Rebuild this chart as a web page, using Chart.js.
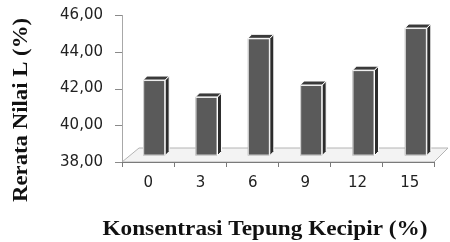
<!DOCTYPE html>
<html>
<head>
<meta charset="utf-8">
<script src="https://cdn.jsdelivr.net/npm/chart.js@4/dist/chart.umd.min.js"></script>
<style>
  body { margin: 0; background: #fff; }
  #wrap { width: 450px; height: 242px; }
</style>
</head>
<body>
<div id="wrap"><canvas id="chart" width="450" height="242"></canvas></div>
<script>
// data
const categories = ['0', '3', '6', '9', '12', '15'];
const ratarata = [42.46, 41.54, 44.73, 42.19, 43.00, 45.29];
const yMin = 38, yMax = 46, yStep = 2;
const barBase = 38.35;   // bars stand on the floor, a bit above the front edge

const yTitle = 'Rerata Nilai L (%)';
const xTitle = 'Konsentrasi Tepung Kecipir (%)';

const DEPTH = 4;

// floor, back wall and axis lines of the pseudo 3d frame
const frame3d = {
  id: 'frame3d',
  beforeDatasetsDraw(chart) {
    const { ctx, chartArea: a, scales } = chart;
    const x0 = a.left - 6, x1 = a.right - 8;
    const fy = a.bottom, by = a.bottom - 14;
    ctx.save();
    // floor
    ctx.beginPath();
    ctx.moveTo(x0, fy);
    ctx.lineTo(x1, fy);
    ctx.lineTo(x1 + 14, by);
    ctx.lineTo(x0 + 17, by);
    ctx.closePath();
    ctx.fillStyle = '#f3f3f3';
    ctx.fill();
    ctx.strokeStyle = '#b4b4b4';
    ctx.lineWidth = 1;
    ctx.stroke();
    // back wall line
    ctx.beginPath();
    ctx.moveTo(x0 + 0.5, a.top);
    ctx.lineTo(x0 + 0.5, fy);
    ctx.strokeStyle = '#a8a8a8';
    ctx.stroke();
    // y tick marks
    ctx.strokeStyle = '#8a8a8a';
    scales.y.ticks.forEach(t => {
      const py = Math.round(scales.y.getPixelForValue(t.value)) + 0.5;
      ctx.beginPath();
      ctx.moveTo(x0 - 7, py);
      ctx.lineTo(x0, py);
      ctx.stroke();
    });
    // front axis line with ticks between categories
    ctx.strokeStyle = '#7a7a7a';
    ctx.beginPath();
    ctx.moveTo(x0, fy + 0.5);
    ctx.lineTo(x1, fy + 0.5);
    ctx.stroke();
    const n = categories.length;
    for (let i = 0; i <= n; i++) {
      const px = Math.round(x0 + (x1 - x0) * i / n) + 0.5;
      ctx.beginPath();
      ctx.moveTo(px, fy);
      ctx.lineTo(px, fy + 5);
      ctx.stroke();
    }
    ctx.restore();
  },
  afterDatasetsDraw(chart) {
    const { ctx } = chart;
    const meta = chart.getDatasetMeta(0);
    ctx.save();
    meta.data.forEach(bar => {
      const { x, y, width, base } = bar.getProps(['x', 'y', 'width', 'base'], true);
      const l = x - width / 2, r = x + width / 2;
      // right side
      ctx.beginPath();
      ctx.moveTo(r, y);
      ctx.lineTo(r + DEPTH, y - DEPTH);
      ctx.lineTo(r + DEPTH, base - DEPTH);
      ctx.lineTo(r, base);
      ctx.closePath();
      ctx.fillStyle = '#2c2c2c';
      ctx.fill();
      ctx.strokeStyle = '#ffffff';
      ctx.lineWidth = 1;
      ctx.stroke();
      // top cap
      ctx.beginPath();
      ctx.moveTo(l, y);
      ctx.lineTo(l + DEPTH, y - DEPTH);
      ctx.lineTo(r + DEPTH, y - DEPTH);
      ctx.lineTo(r, y);
      ctx.closePath();
      ctx.fillStyle = '#3a3a3a';
      ctx.fill();
      ctx.stroke();
      // light edge on the front face
      ctx.strokeStyle = 'rgba(255,255,255,0.8)';
      ctx.strokeRect(l + 0.5, y + 0.5, width - 1, base - y - 1);
    });
    ctx.restore();
  }
};

// axis titles, bold serif, stretched a bit like the original
const axisTitles = {
  id: 'axisTitles',
  afterDraw(chart) {
    const { ctx } = chart;
    ctx.save();
    ctx.fillStyle = '#111';
    ctx.font = 'bold 21px "Liberation Serif"';
    ctx.textAlign = 'center';
    ctx.textBaseline = 'middle';

    let w = ctx.measureText(xTitle).width;
    ctx.save();
    ctx.translate(265, 230);
    ctx.scale(325 / w, 1);
    ctx.fillText(xTitle, 0, 0);
    ctx.restore();

    w = ctx.measureText(yTitle).width;
    ctx.save();
    ctx.translate(22, 110);
    ctx.rotate(-Math.PI / 2);
    ctx.scale(184 / w, 1);
    ctx.fillText(yTitle, 0, 0);
    ctx.restore();
    ctx.restore();
  }
};

new Chart(document.getElementById('chart'), {
  type: 'bar',
  data: {
    labels: categories,
    datasets: [{
      data: ratarata,
      base: barBase,
      backgroundColor: '#5a5a5a',
      borderWidth: 0,
      categoryPercentage: 1,
      barPercentage: 0.42
    }]
  },
  options: {
    responsive: false,
    animation: false,
    devicePixelRatio: 1,
    layout: { padding: { top: 15, right: 8, left: 0, bottom: 0 } },
    plugins: { legend: { display: false }, tooltip: { enabled: false } },
    scales: {
      x: {
        grid: { display: false, drawTicks: false },
        border: { display: false },
        ticks: {
          color: '#222',
          font: { family: 'DejaVu Sans', size: 15 },
          labelOffset: -6,
          padding: 12
        },
        afterFit(s) { s.height = 80; }
      },
      y: {
        min: yMin,
        max: yMax,
        grid: { display: false, drawTicks: true, tickLength: 22 },
        border: { display: false },
        ticks: {
          stepSize: yStep,
          color: '#222',
          font: { family: 'DejaVu Sans', size: 15 },
          padding: 3,
          callback: v => v.toFixed(2).replace('.', ',')
        },
        afterFit(s) { s.width = 128; }
      }
    }
  },
  plugins: [frame3d, axisTitles]
});
</script>
</body>
</html>
